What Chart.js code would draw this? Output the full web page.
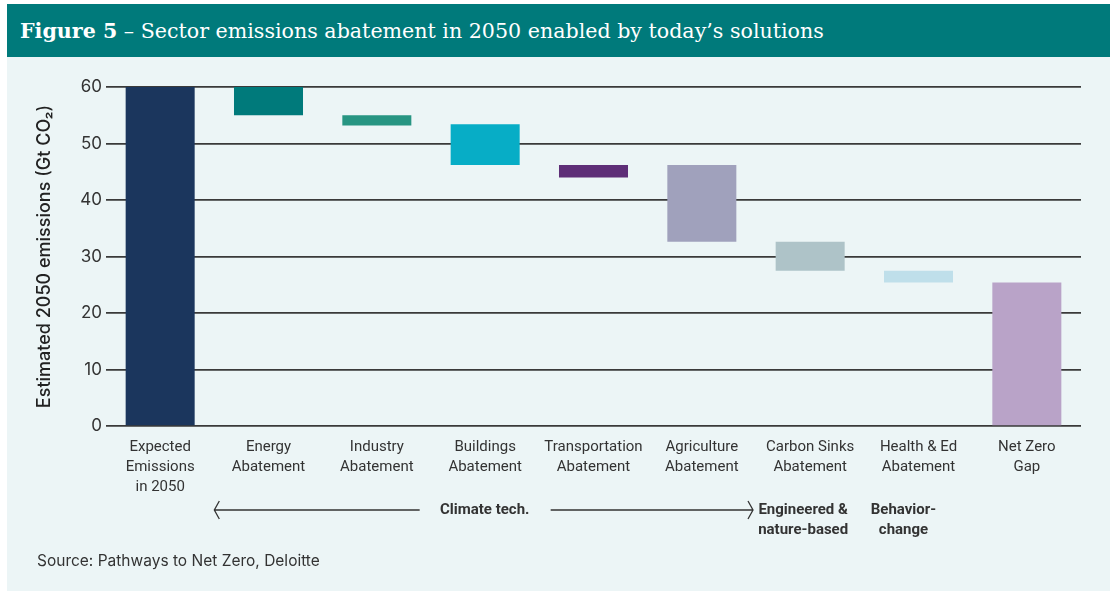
<!DOCTYPE html>
<html>
<head>
<meta charset="utf-8">
<script src="https://cdn.jsdelivr.net/npm/chart.js@4"></script>
<style>
  html, body { margin: 0; padding: 0; background: #ffffff; }
  body { width: 1110px; height: 591px; position: relative; overflow: hidden; }
  .header {
    position: absolute; left: 7px; top: 4px; width: 1103px; height: 53px;
    background: #007a7b; color: #ffffff;
    font-family: "DejaVu Serif", "Liberation Serif", serif; font-size: 20.6px;
    display: flex; align-items: center; padding-left: 13px; box-sizing: border-box;
  }
  .header b { font-weight: bold; }
  .panel {
    position: absolute; left: 7px; top: 57px; width: 1103px; height: 534px;
    background: #ecf5f6;
  }
  #chart { position: absolute; left: 0; top: 0; }
  .source {
    position: absolute; left: 30px; top: 494px;
    font-family: Inter, Roboto, sans-serif; font-size: 15.5px; color: #333333;
  }
</style>
</head>
<body>
<div class="header"><span><b>Figure 5</b> – Sector emissions abatement in 2050 enabled by today’s solutions</span></div>
<div class="panel">
  <canvas id="chart" width="1103" height="534"></canvas>
  <div class="source">Source: Pathways to Net Zero, Deloitte</div>
</div>
<script>
// CHART DATA
const categories = [
  ["Expected", "Emissions", "in 2050"],
  ["Energy", "Abatement"],
  ["Industry", "Abatement"],
  ["Buildings", "Abatement"],
  ["Transportation", "Abatement"],
  ["Agriculture", "Abatement"],
  ["Carbon Sinks", "Abatement"],
  ["Health & Ed", "Abatement"],
  ["Net Zero", "Gap"],
];
const barLows = [0, 55, 53.2, 46.2, 44, 32.6, 27.5, 25.4, 0];
const barHighs = [60, 60, 55, 53.4, 46.2, 46.2, 32.6, 27.5, 25.4];
const barColors = [
  "#1b365d", "#007a7b", "#279582", "#07adc6", "#5e2e77",
  "#a0a1bc", "#aec3c8", "#bfdfea", "#b9a3c8",
];
const yTicks = [0, 10, 20, 30, 40, 50, 60];

const labelFont = "Roboto, 'Liberation Sans', sans-serif";

// ARROWS + GROUP LABELS UNDER THE AXIS
const groupNotes = {
  id: "group-notes",
  afterDraw(chart) {
    const { ctx, scales: { x } } = chart;
    const step = x.getPixelForValue(1) - x.getPixelForValue(0);
    const y = 453;
    const left = x.getPixelForValue(1) - step / 2;
    const right = x.getPixelForValue(6) - step / 2 - 3;
    const mid = (left + right) / 2 + 1;

    ctx.save();
    ctx.strokeStyle = "#333333";
    ctx.lineWidth = 1.3;
    ctx.beginPath();
    ctx.moveTo(left, y);
    ctx.lineTo(mid - 65, y);
    ctx.moveTo(mid + 66, y);
    ctx.lineTo(right, y);
    // chevrons
    ctx.moveTo(left + 5, y - 9);
    ctx.lineTo(left, y);
    ctx.lineTo(left + 5, y + 9);
    ctx.moveTo(right - 5, y - 9);
    ctx.lineTo(right, y);
    ctx.lineTo(right - 5, y + 9);
    ctx.stroke();

    ctx.fillStyle = "#333333";
    ctx.font = "bold 15px " + labelFont;
    ctx.textAlign = "center";
    ctx.textBaseline = "middle";
    ctx.fillText("Climate tech.", mid, y);

    const c6 = x.getPixelForValue(6) - 7;
    const c7 = x.getPixelForValue(7) - 15;
    ctx.fillText("Engineered &", c6, y);
    ctx.fillText("nature-based", c6, y + 20);
    ctx.fillText("Behavior-", c7, y);
    ctx.fillText("change", c7, y + 20);
    ctx.restore();
  },
};

new Chart(document.getElementById("chart"), {
  type: "bar",
  data: {
    labels: categories,
    datasets: [
      {
        data: barLows.map((lo, i) => [lo, barHighs[i]]),
        backgroundColor: barColors,
        borderWidth: 0,
        borderSkipped: false,
        categoryPercentage: 1,
        barPercentage: 0.637,
      },
    ],
  },
  options: {
    responsive: false,
    animation: false,
    layout: { padding: { left: 0, right: 29, top: 30, bottom: 0 } },
    plugins: { legend: { display: false }, tooltip: { enabled: false } },
    scales: {
      x: {
        grid: { display: false, drawTicks: false },
        border: { display: false },
        ticks: {
          color: "#333333",
          font: { family: labelFont, size: 15, lineHeight: 1.33 },
          padding: 11,
          maxRotation: 0,
          autoSkip: false,
        },
        afterFit: (scale) => { scale.height = 165; },
      },
      y: {
        min: 0,
        max: 60,
        afterBuildTicks: (scale) => {
          scale.ticks = yTicks.map((v) => ({ value: v }));
        },
        grid: { color: "#3a3a3a", lineWidth: 1.7, drawTicks: false },
        border: { display: false },
        ticks: {
          color: "#333333",
          font: { family: "Inter, Roboto, sans-serif", size: 17 },
          padding: 4,
        },
        title: {
          display: true,
          text: "Estimated 2050 emissions (Gt CO₂)",
          color: "#222222",
          font: { family: "Inter, Roboto, sans-serif", size: 18, weight: "500" },
          padding: { top: 27, bottom: 0 },
        },
        afterFit: (scale) => { scale.width = 99; },
      },
    },
  },
  plugins: [groupNotes],
});
</script>
</body>
</html>
